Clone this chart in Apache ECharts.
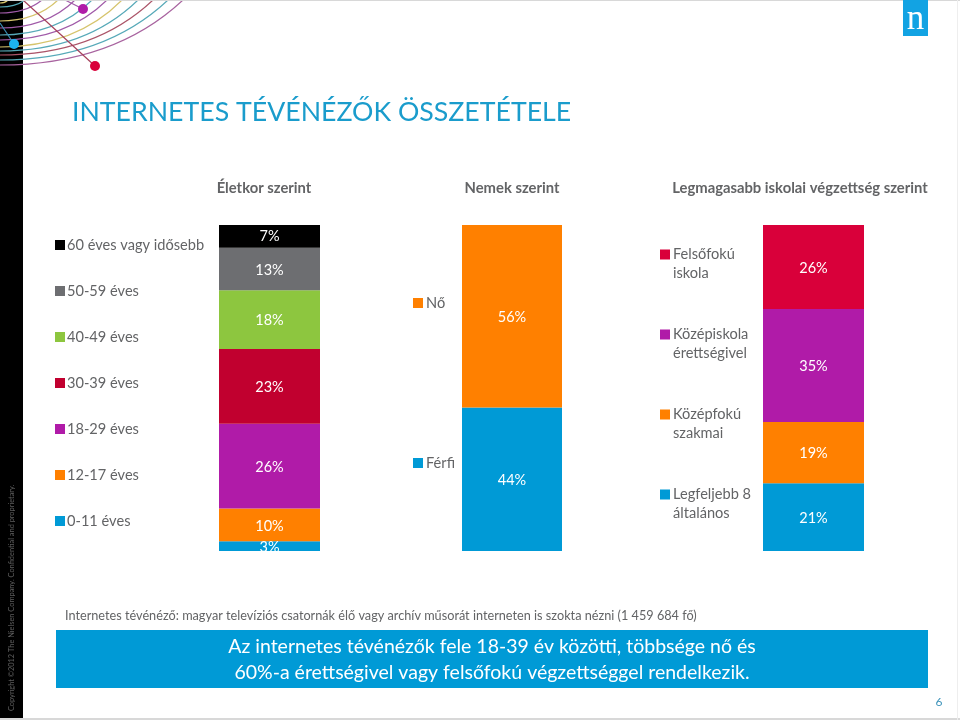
<!DOCTYPE html>
<html><head><meta charset="utf-8">
<style>html,body{margin:0;padding:0;background:#fff}#c{width:960px;height:720px}</style>
<script src="https://cdn.jsdelivr.net/npm/echarts@6/dist/echarts.min.js"></script>
</head><body><div id="c"></div>
<script>
const ageNames = ['0-11 éves','12-17 éves','18-29 éves','30-39 éves','40-49 éves','50-59 éves','60 éves vagy idősebb'];
const ageValues = [3,10,26,23,18,13,7];
const ageColors = ['#009ad6','#ff8000','#b01ba8','#c1002f','#8dc63f','#6d6e71','#000000'];
const genderNames = ['Férfi','Nő'];
const genderValues = [44,56];
const genderColors = ['#009ad6','#ff8000'];
const eduNames = ['Legfeljebb 8\náltalános','Középfokú\nszakmai','Középiskola\nérettségivel','Felsőfokú\niskola'];
const eduValues = [21,19,35,26];
const eduColors = ['#009ad6','#ff8000','#b01ba8','#d9003a'];

const FONT = 'Lato';
const GREY = '#636466';
const sum = a => a.reduce((s,v)=>s+v,0);

const groups = [
  {names:ageNames, values:ageValues, colors:ageColors, left:219, width:101},
  {names:genderNames, values:genderValues, colors:genderColors, left:462, width:100},
  {names:eduNames, values:eduValues, colors:eduColors, left:763, width:101}
];
const labelOffsets = [[[0,1],[0,1],[0,1],[0,1],[0,1],[0,1],[0,0]],[[0,1],[0,1]],[[0,1],[0,1],[0,1],[0,1]]];

const series = [];
groups.forEach((g,i)=>g.names.forEach((n,j)=>series.push({
  type:'bar', name:n, xAxisIndex:i, yAxisIndex:i, stack:'s'+i, barWidth:'100%',
  data:[g.values[j]], itemStyle:{color:g.colors[j]},
  label:{show:true, position:'inside', offset:labelOffsets[i][j], formatter:'{c}%', color:'#fff', fontFamily:FONT, fontSize:14.5},
  emphasis:{disabled:true}
})));

/* decoration of the slide */
const arcTopX = [183,168,153,138,122,107,92,75,58,42,25,8];
const arcLeftY = [65,60,55,51,47,40,35,28,21,13,7,3];
const arcColors = ['#a8639f','#56a9b8','#ab5468','#56a9b8','#d6c46c','#a05aa8','#56a9b8','#a05aa8','#d6c46c','#a05aa8','#56a9b8','#d6c46c'];
const deco = [];
deco.push({type:'rect',silent:true,shape:{x:0,y:0,width:23,height:720},style:{fill:'#000'},z:1});
arcTopX.forEach((x,i)=>deco.push({type:'bezierCurve',silent:true,
  shape:{x1:0,y1:arcLeftY[i],x2:x,y2:0,cpx1:x*0.62,cpy1:arcLeftY[i]},
  style:{stroke:arcColors[i],lineWidth:1.2,fill:null},z:2}));
[[23,0,95,66,'#a5405a'],[65,0,83,9,'#a05aa8'],[0,23,14,44,'#3a8fb5']].forEach(l=>deco.push({type:'line',silent:true,
  shape:{x1:l[0],y1:l[1],x2:l[2],y2:l[3]},style:{stroke:l[4],lineWidth:1.2},z:3}));
[[95,66,'#d9003a',5],[83,9,'#b01ba8',5],[14,44,'#1cb4ee',5]].forEach(c=>deco.push({type:'circle',silent:true,
  shape:{cx:c[0],cy:c[1],r:c[3]},style:{fill:c[2]},z:4}));
deco.push({type:'rect',silent:true,shape:{x:0,y:0,width:960,height:1},style:{fill:'#d8d8d8'},z:5});
deco.push({type:'rect',silent:true,shape:{x:0,y:718,width:960,height:2},style:{fill:'#d8d8d8'},z:5});
deco.push({type:'rect',silent:true,shape:{x:957,y:0,width:1,height:720},style:{fill:'#eeeeee'},z:5});
deco.push({type:'text',silent:true,x:11.5,y:711,z:6,
  style:{text:'Copyright ©2012 The Nielsen Company. Confidential and proprietary.',fill:'#5e5e5e',font:'7.4px '+FONT,align:'left',verticalAlign:'middle'},
  rotation:Math.PI/2});
deco.push({type:'rect',silent:true,shape:{x:903,y:0,width:25,height:36},style:{fill:'#12a3e3'},z:5});
deco.push({type:'text',silent:true,x:915.5,y:20,z:6,style:{text:'n',fill:'#fff',font:'35px "Liberation Serif"',align:'center',verticalAlign:'middle'}});
const txt = (s,x,y,font,fill,align)=>deco.push({type:'text',silent:true,x,y,z:6,style:{text:s,fill,font:font+' '+FONT,align:align||'center',verticalAlign:'middle'}});
txt('Életkor szerint',264,188,'bold 14.8px',GREY);
txt('Nemek szerint',512,188,'bold 14.8px',GREY);
txt('Legmagasabb iskolai végzettség szerint',800,188,'bold 14.8px',GREY);
txt('Internetes tévénéző: magyar televíziós csatornák élő vagy archív műsorát interneten is szokta nézni (1 459 684 fő)',65,616,'12.7px',GREY,'left');
deco.push({type:'rect',silent:true,shape:{x:56,y:630,width:872,height:58},style:{fill:'#009ad6'},z:5});
txt('Az internetes tévénézők fele 18-39 év közötti, többsége nő és',492,647,'19.5px','#fff');
txt('60%-a érettségivel vagy felsőfokú végzettséggel rendelkezik.',492,673,'19.5px','#fff');
txt('6',939,702,'12px','#3d93ba');

const twoLineIcon = 'path://M0,4.5H10V14.5H0Z M0,0L0,0Z M0,38L0,38Z';
const chart = echarts.init(document.getElementById('c'),null,{renderer:'canvas'});
chart.setOption({
  animation:false,
  backgroundColor:'#fff',
  title:{text:'INTERNETES TÉVÉNÉZŐK ÖSSZETÉTELE',left:72,top:99,padding:0,
    textStyle:{fontFamily:FONT,fontSize:26.7,fontWeight:'normal',color:'#1a9ccc'}},
  tooltip:{show:false},
  grid:groups.map(g=>({left:g.left,width:g.width,top:225,height:326,show:false})),
  xAxis:groups.map((g,i)=>({type:'category',gridIndex:i,data:[''],show:false})),
  yAxis:groups.map((g,i)=>({type:'value',gridIndex:i,min:0,max:sum(g.values),show:false})),
  legend:[
    {orient:'vertical',left:55,top:236,itemGap:28,itemWidth:10,itemHeight:10,icon:'rect',selectedMode:false,padding:0,
     data:ageNames.slice().reverse(),textStyle:{fontFamily:FONT,fontSize:14.6,color:GREY,lineHeight:18,padding:[0,0,0,-3]}},
    {orient:'vertical',left:413,top:294,itemGap:142,itemWidth:10,itemHeight:10,icon:'rect',selectedMode:false,padding:0,
     data:genderNames.slice().reverse(),textStyle:{fontFamily:FONT,fontSize:14.6,color:GREY,lineHeight:18,padding:[0,0,0,-2]}},
    {orient:'vertical',left:660,top:245,itemGap:42,itemWidth:10,itemHeight:38,icon:twoLineIcon,selectedMode:false,padding:0,
     data:eduNames.slice().reverse(),textStyle:{fontFamily:FONT,fontSize:14.6,color:GREY,lineHeight:19,padding:[0,0,0,-2]}}
  ],
  series,
  graphic:{elements:deco}
});
</script></body></html>
